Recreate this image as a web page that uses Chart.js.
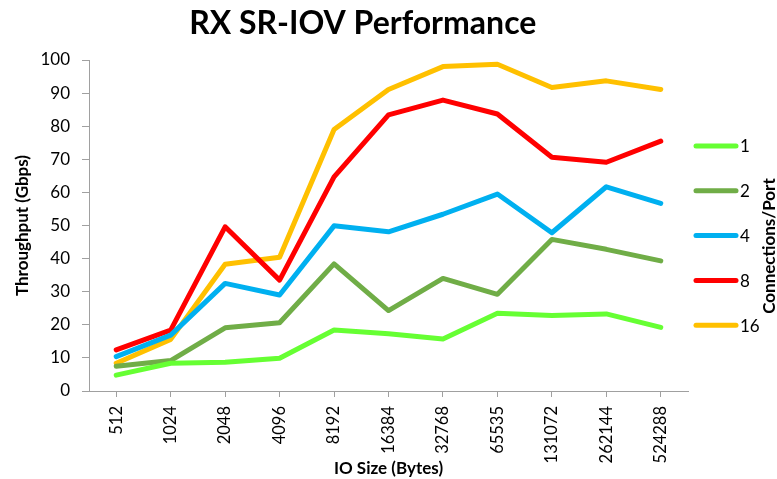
<!DOCTYPE html>
<html>
<head>
<meta charset="utf-8">
<script src="https://cdn.jsdelivr.net/npm/chart.js@4/dist/chart.umd.min.js"></script>
<style>
  html, body { margin: 0; padding: 0; background: #fff; }
  #wrap { width: 777px; height: 479px; position: relative; }
</style>
</head>
<body>
<div id="wrap"><canvas id="c" width="777" height="479"></canvas></div>
<script>
const chartTitle = "RX SR-IOV Performance";
const categories = ["512", "1024", "2048", "4096", "8192", "16384", "32768", "65535", "131072", "262144", "524288"];
const seriesNames = ["1", "2", "4", "8", "16"];
const conn1  = [4.8, 8.4, 8.7, 9.9, 18.4, 17.3, 15.7, 23.5, 22.8, 23.3, 19.2];
const conn2  = [7.5, 9.2, 19.1, 20.6, 38.4, 24.3, 34.0, 29.2, 45.8, 42.8, 39.3];
const conn4  = [10.4, 16.9, 32.5, 29.0, 49.9, 48.1, 53.4, 59.5, 47.8, 61.7, 56.7];
const conn8  = [12.4, 18.4, 49.6, 33.5, 64.7, 83.4, 87.9, 83.7, 70.6, 69.1, 75.5];
const conn16 = [8.4, 15.6, 38.3, 40.4, 79.0, 91.1, 98.0, 98.7, 91.7, 93.7, 91.1];
const yTicks = { min: 0, max: 100, step: 10 };
const colors = ["#66FF33", "#70AD47", "#00B0F0", "#FF0000", "#FFC000"];
const FONT = "Lato";

const allSeries = [conn1, conn2, conn4, conn8, conn16];

const sidePlugin = {
  id: "sideDecor",
  afterDraw(chart) {
    const ctx = chart.ctx;
    const ca = chart.chartArea;
    ctx.save();
    // Title
    ctx.fillStyle = "#000";
    ctx.font = "bold 32px " + FONT;
    ctx.textAlign = "center";
    ctx.textBaseline = "alphabetic";
    ctx.fillText(chartTitle, ca.left + (ca.right - ca.left) * 0.457, 34);
    // Legend
    const x0 = ca.right + 8, x1 = ca.right + 48;
    const yStart = 146, yStep = 44.8;
    ctx.font = "17px " + FONT;
    ctx.textAlign = "left";
    ctx.textBaseline = "middle";
    chart.data.datasets.forEach((ds, i) => {
      const y = yStart + i * yStep;
      ctx.strokeStyle = ds.borderColor;
      ctx.lineWidth = 5;
      ctx.lineCap = "round";
      ctx.beginPath();
      ctx.moveTo(x0, y);
      ctx.lineTo(x1, y);
      ctx.stroke();
      ctx.fillStyle = "#000";
      ctx.fillText(ds.label, x1 + 4, y + 1);
    });
    // Legend title rotated
    ctx.save();
    ctx.translate(770, 246);
    ctx.rotate(-Math.PI / 2);
    ctx.font = "bold 17px " + FONT;
    ctx.textAlign = "center";
    ctx.textBaseline = "middle";
    ctx.fillStyle = "#000";
    ctx.fillText("Connections/Port", 0, 0);
    ctx.restore();
    ctx.restore();
  }
};

new Chart(document.getElementById("c"), {
  type: "line",
  data: {
    labels: categories,
    datasets: seriesNames.map((name, i) => ({
      label: name,
      data: allSeries[i],
      borderColor: colors[i],
      backgroundColor: colors[i],
      borderWidth: 5,
      borderCapStyle: "round",
      borderJoinStyle: "round",
      pointRadius: 0,
      pointHoverRadius: 0,
      tension: 0,
      fill: false
    }))
  },
  options: {
    responsive: false,
    animation: false,
    devicePixelRatio: 1,
    layout: { padding: { left: 0, top: 60, right: 89, bottom: 0 } },
    plugins: {
      legend: { display: false },
      title: { display: false },
      tooltip: { enabled: false }
    },
    scales: {
      x: {
        type: "category",
        offset: true,
        grid: { display: true, drawOnChartArea: false, drawTicks: true, tickLength: 6, color: "#A0A0A0", offset: false },
        border: { display: true, color: "#A0A0A0", width: 1 },
        ticks: {
          autoSkip: false, minRotation: 90, maxRotation: 90, padding: 9,
          color: "#000", font: { family: FONT, size: 16.5 }
        },
        title: {
          display: true, text: "IO Size (Bytes)", color: "#000",
          font: { family: FONT, size: 17, weight: "bold" }, padding: { top: 0, bottom: 0 }
        },
        afterFit(scale) { scale.height = 88; }
      },
      y: {
        min: yTicks.min, max: yTicks.max,
        grid: { display: true, drawOnChartArea: false, drawTicks: true, tickLength: 7, color: "#A0A0A0" },
        border: { display: true, color: "#A0A0A0", width: 1 },
        ticks: {
          stepSize: yTicks.step, padding: 12,
          color: "#000", font: { family: FONT, size: 17 }
        },
        title: {
          display: true, text: "Throughput (Gbps)", color: "#000",
          font: { family: FONT, size: 17, weight: "bold" }, padding: { top: 12, bottom: 0 }
        },
        afterFit(scale) { scale.width = 89; }
      }
    }
  },
  plugins: [sidePlugin]
});
</script>
</body>
</html>
